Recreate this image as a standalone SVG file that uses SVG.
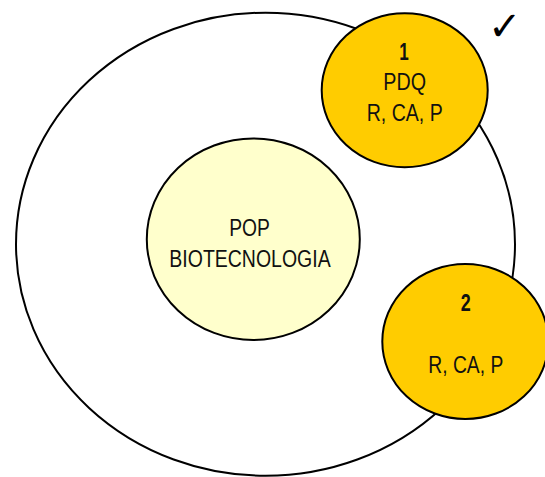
<svg xmlns="http://www.w3.org/2000/svg" width="545" height="477" viewBox="0 0 545 477">
<style>
.shape{stroke:#000;stroke-width:2}
.t{font-family:"Liberation Sans Narrow","Liberation Sans",Arial,sans-serif;font-size:23px;fill:#111;text-anchor:middle}
.b{font-weight:bold}
</style>
<rect width="545" height="477" fill="#fff"/>
<g id="outer">
<ellipse class="shape" cx="265.5" cy="244.2" rx="249.5" ry="231.5" fill="#fff"/>
</g>
<g id="connectors"></g>
<g id="pop">
<ellipse class="shape" cx="253.3" cy="239.2" rx="106.5" ry="100.8" fill="#FFFFCC"/>
<text class="t" x="249.6" y="235.7" textLength="40.7" lengthAdjust="spacingAndGlyphs">POP</text>
<text class="t" x="250" y="266.7" textLength="161.3" lengthAdjust="spacingAndGlyphs">BIOTECNOLOGIA</text>
</g>
<g id="node1">
<ellipse class="shape" cx="404.7" cy="90.3" rx="83" ry="77" fill="#FFCC00"/>
<text class="t b" x="404" y="60" textLength="9.5" lengthAdjust="spacingAndGlyphs">1</text>
<text class="t" x="404.7" y="89.5" textLength="42.7" lengthAdjust="spacingAndGlyphs">PDQ</text>
<text class="t" x="404.7" y="120.7" textLength="76" lengthAdjust="spacingAndGlyphs">R, CA, P</text>
</g>
<g id="node2">
<ellipse class="shape" cx="465.3" cy="341.5" rx="83" ry="77.5" fill="#FFCC00"/>
<text class="t b" x="465.7" y="310.7" textLength="10" lengthAdjust="spacingAndGlyphs">2</text>
<text class="t" x="465.8" y="373.3" textLength="75" lengthAdjust="spacingAndGlyphs">R, CA, P</text>
</g>
<g id="check">
<text x="488" y="40" font-family="DejaVu Sans,sans-serif" font-size="40" font-weight="bold" fill="#000">✓</text>
</g>
</svg>
